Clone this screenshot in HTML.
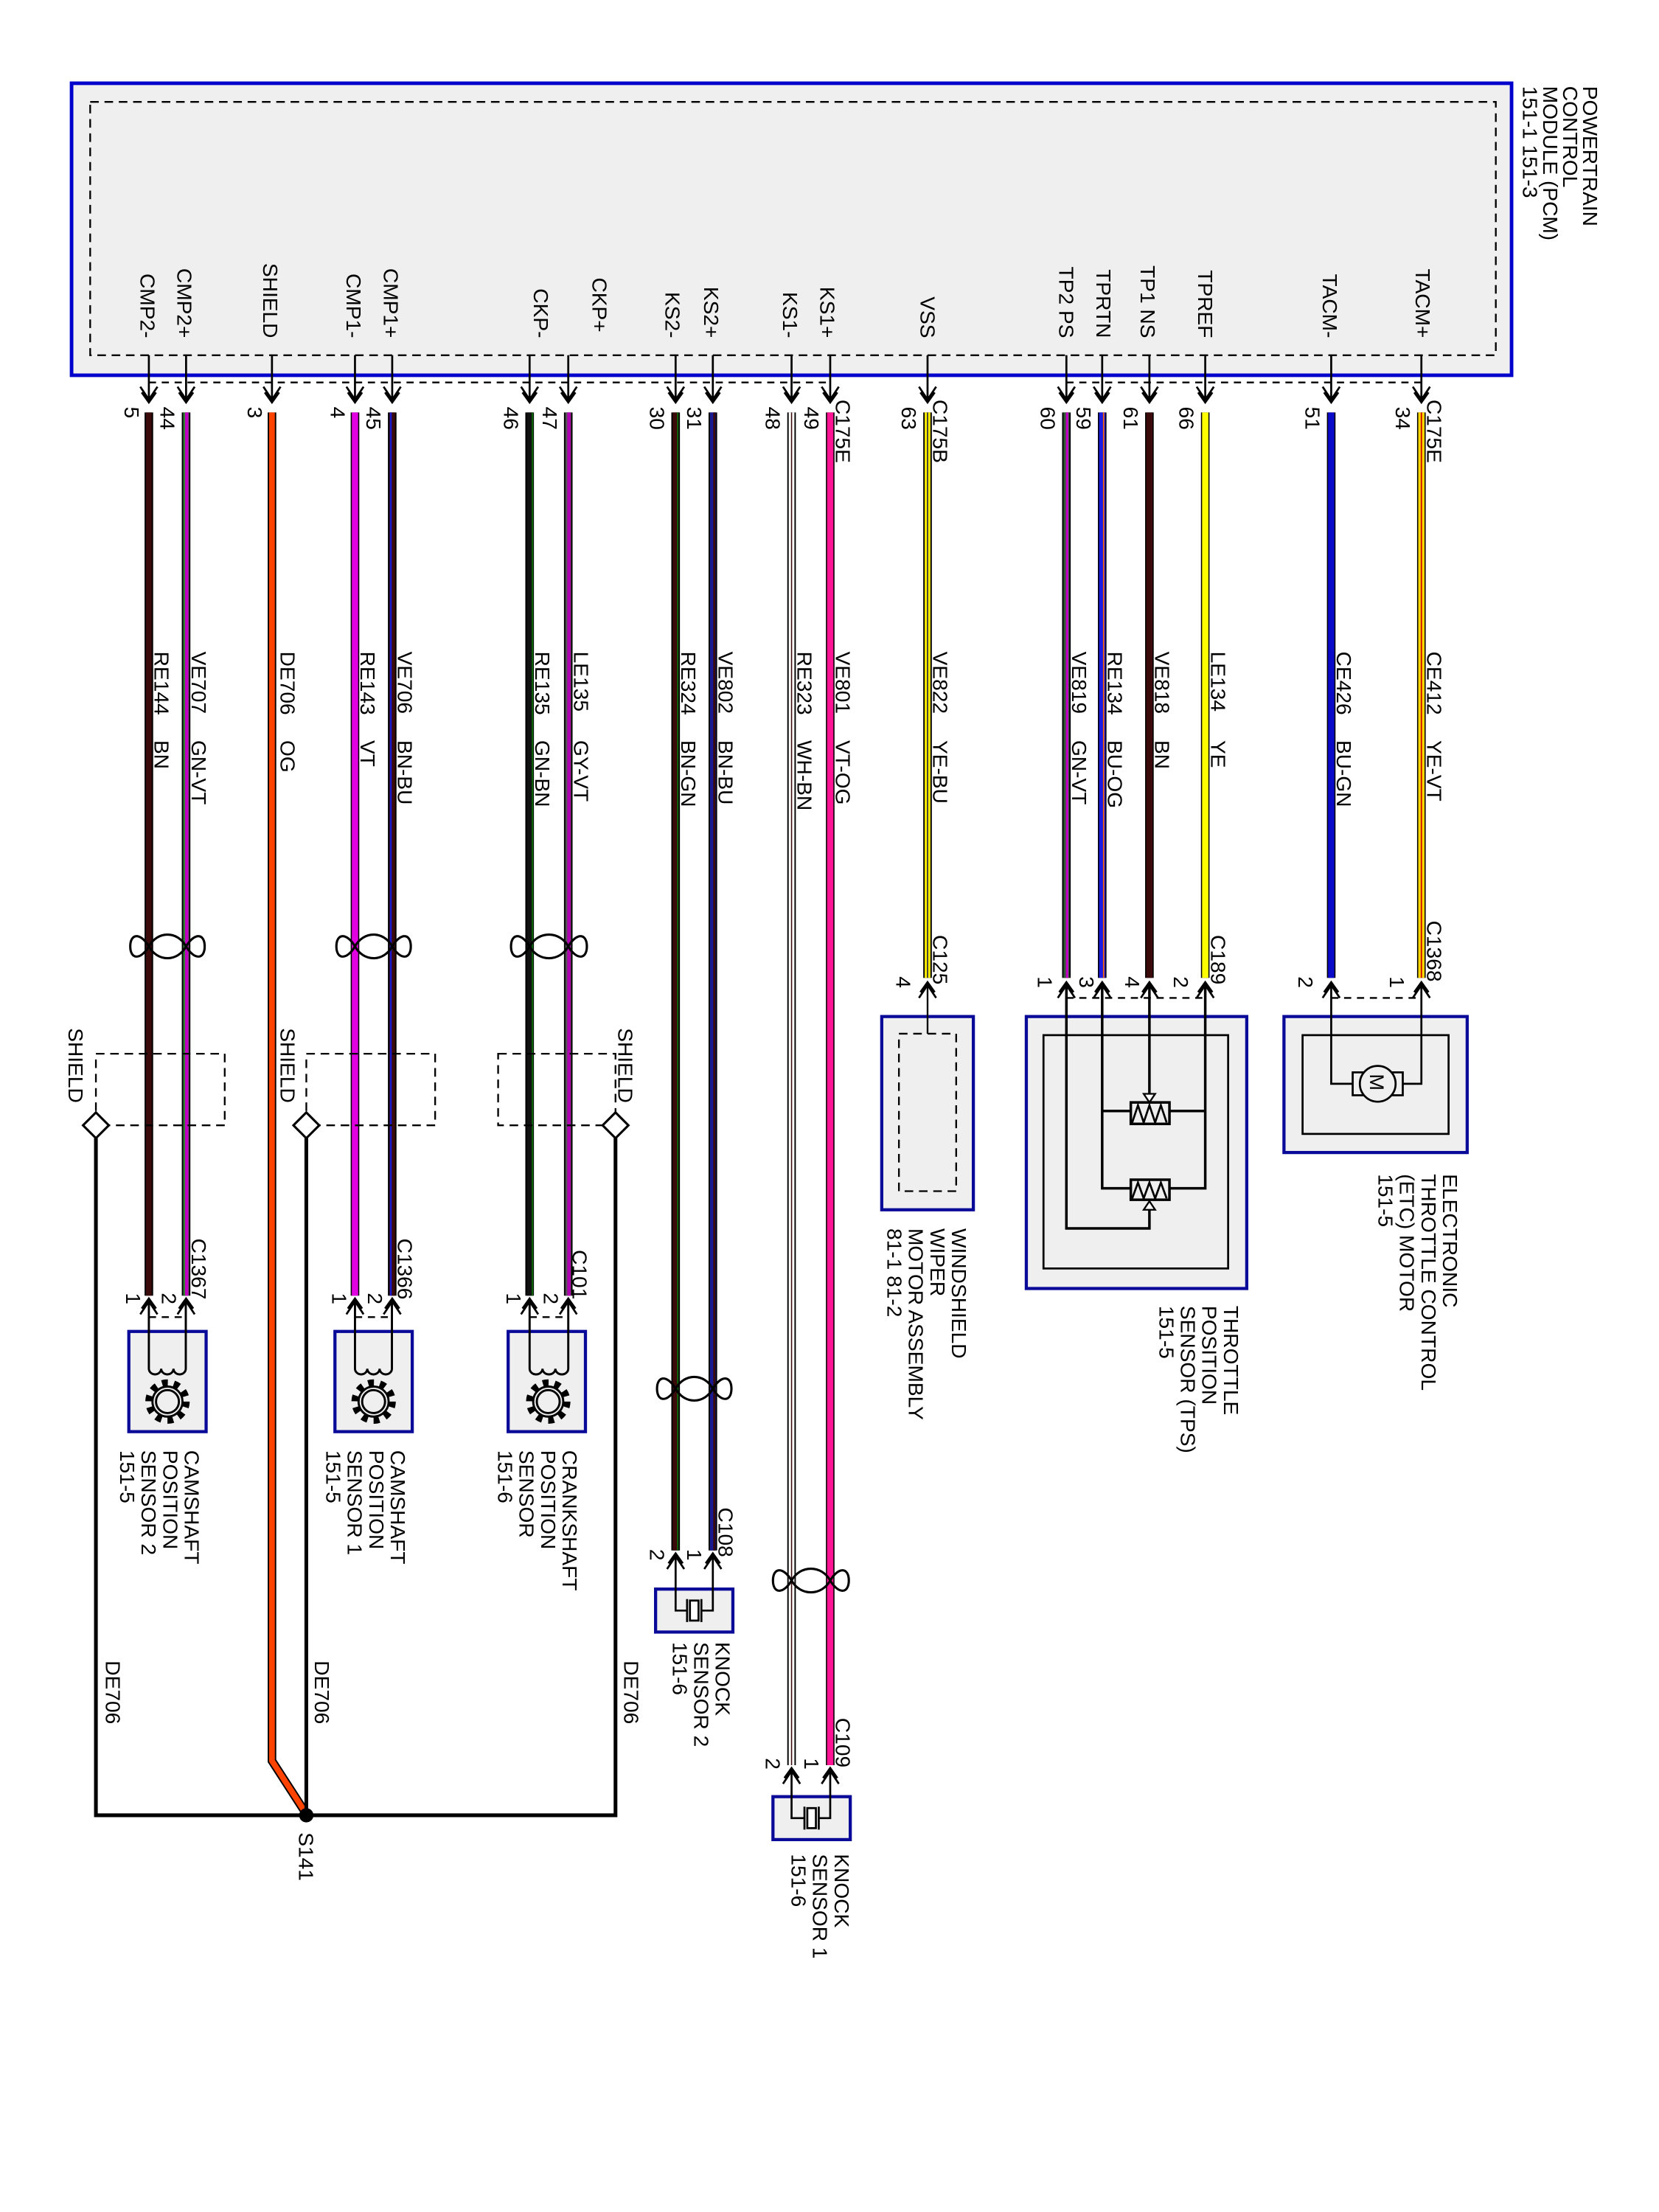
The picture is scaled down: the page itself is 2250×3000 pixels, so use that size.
<!DOCTYPE html>
<html><head><meta charset="utf-8"><style>
html,body{margin:0;padding:0;background:#fff;}
svg{display:block;}
text{font-family:"Liberation Sans",Arial,sans-serif;font-size:14.5px;fill:#000;}
</style></head><body>
<svg width="2250" height="3000" viewBox="0 0 1159 1545" xmlns="http://www.w3.org/2000/svg">
<rect x="0" y="0" width="1159" height="1545" fill="#fff"/>
<!-- PCM -->
<rect x="50" y="58" width="1006" height="204" fill="#efefef" stroke="#0000cc" stroke-width="2.5"/>
<rect x="63" y="71" width="982" height="177" fill="none" stroke="#000" stroke-width="1.2" stroke-dasharray="6 4"/>
<g transform="translate(1106,60) rotate(90)"><text>POWERTRAIN<tspan x="0" dy="14">CONTROL</tspan><tspan x="0" dy="14">MODULE (PCM)</tspan><tspan x="0" dy="14">151-1   151-3</tspan></text></g>

<line x1="104" y1="267" x2="580" y2="267" stroke="#000" stroke-width="1.2" stroke-dasharray="5 4"/>
<line x1="745" y1="267" x2="993" y2="267" stroke="#000" stroke-width="1.2" stroke-dasharray="5 4"/>

<g stroke="#000" stroke-width="1.4" fill="none">
<path d="M104 248V281M98 270L104 279L110 270M99 274L104 281L109 274"/>
<path d="M130 248V281M124 270L130 279L136 270M125 274L130 281L135 274"/>
<path d="M190 248V281M184 270L190 279L196 270M185 274L190 281L195 274"/>
<path d="M248 248V281M242 270L248 279L254 270M243 274L248 281L253 274"/>
<path d="M274 248V281M268 270L274 279L280 270M269 274L274 281L279 274"/>
<path d="M370 248V281M364 270L370 279L376 270M365 274L370 281L375 274"/>
<path d="M397 248V281M391 270L397 279L403 270M392 274L397 281L402 274"/>
<path d="M472 248V281M466 270L472 279L478 270M467 274L472 281L477 274"/>
<path d="M498 248V281M492 270L498 279L504 270M493 274L498 281L503 274"/>
<path d="M553 248V281M547 270L553 279L559 270M548 274L553 281L558 274"/>
<path d="M580 248V281M574 270L580 279L586 270M575 274L580 281L585 274"/>
<path d="M648 248V281M642 270L648 279L654 270M643 274L648 281L653 274"/>
<path d="M745 248V281M739 270L745 279L751 270M740 274L745 281L750 274"/>
<path d="M770 248V281M764 270L770 279L776 270M765 274L770 281L775 274"/>
<path d="M803 248V281M797 270L803 279L809 270M798 274L803 281L808 274"/>
<path d="M842 248V281M836 270L842 279L848 270M837 274L842 281L847 274"/>
<path d="M930 248V281M924 270L930 279L936 270M925 274L930 281L935 274"/>
<path d="M993 248V281M987 270L993 279L999 270M988 274L993 281L998 274"/>
</g>

<g text-anchor="end">
<text transform="translate(98,236) rotate(90)">CMP2-</text>
<text transform="translate(124,236) rotate(90)">CMP2+</text>
<text transform="translate(184,236) rotate(90)">SHIELD</text>
<text transform="translate(242,236) rotate(90)">CMP1-</text>
<text transform="translate(268,236) rotate(90)">CMP1+</text>
<text transform="translate(373,236) rotate(90)">CKP-</text>
<text transform="translate(414,232) rotate(90)">CKP+</text>
<text transform="translate(465,236) rotate(90)">KS2-</text>
<text transform="translate(492,236) rotate(90)">KS2+</text>
<text transform="translate(547,236) rotate(90)">KS1-</text>
<text transform="translate(573,236) rotate(90)">KS1+</text>
<text transform="translate(643,236) rotate(90)">VSS</text>
<text transform="translate(740,236) rotate(90)">TP2 PS</text>
<text transform="translate(766,236) rotate(90)">TPRTN</text>
<text transform="translate(797,236) rotate(90)">TP1 NS</text>
<text transform="translate(837,236) rotate(90)">TPREF</text>
<text transform="translate(924,236) rotate(90)">TACM-</text>
<text transform="translate(989,236) rotate(90)">TACM+</text>
</g>

<g>
<text transform="translate(87,284) rotate(90)">5</text>
<text transform="translate(112,284) rotate(90)">44</text>
<text transform="translate(173,284) rotate(90)">3</text>
<text transform="translate(231,284) rotate(90)">4</text>
<text transform="translate(256,284) rotate(90)">45</text>
<text transform="translate(352,284) rotate(90)">46</text>
<text transform="translate(379,284) rotate(90)">47</text>
<text transform="translate(454,284) rotate(90)">30</text>
<text transform="translate(480,284) rotate(90)">31</text>
<text transform="translate(535,284) rotate(90)">48</text>
<text transform="translate(562,284) rotate(90)">49</text>
<text transform="translate(584,279) rotate(90)">C175E</text>
<text transform="translate(630,284) rotate(90)">63</text>
<text transform="translate(652,279) rotate(90)">C175B</text>
<text transform="translate(727,284) rotate(90)">60</text>
<text transform="translate(752,284) rotate(90)">59</text>
<text transform="translate(785,284) rotate(90)">61</text>
<text transform="translate(824,284) rotate(90)">66</text>
<text transform="translate(912,284) rotate(90)">51</text>
<text transform="translate(975,284) rotate(90)">34</text>
<text transform="translate(997,279) rotate(90)">C175E</text>
</g>

<g fill="none">
<line x1="104" y1="288" x2="104" y2="905" stroke="#000" stroke-width="6"/><line x1="104" y1="288" x2="104" y2="905" stroke="#3b0a0a" stroke-width="4"/>
<line x1="130" y1="288" x2="130" y2="905" stroke="#000" stroke-width="6"/><line x1="130" y1="288" x2="130" y2="905" stroke="#2e7d32" stroke-width="4"/><line x1="130.5" y1="288" x2="130.5" y2="905" stroke="#c000c0" stroke-width="2.4"/>
<path d="M190 288V1230L212 1264" stroke="#000" stroke-width="6"/><path d="M190 288V1230L212 1264" stroke="#ff4400" stroke-width="4"/>
<line x1="248" y1="288" x2="248" y2="905" stroke="#000" stroke-width="6"/><line x1="248" y1="288" x2="248" y2="905" stroke="#e000e0" stroke-width="4.4"/>
<line x1="274" y1="288" x2="274" y2="905" stroke="#000" stroke-width="6"/><line x1="274" y1="288" x2="274" y2="905" stroke="#3b0a0a" stroke-width="4"/><line x1="273" y1="288" x2="273" y2="905" stroke="#1818c8" stroke-width="1.4"/>
<line x1="370" y1="288" x2="370" y2="905" stroke="#000" stroke-width="6"/><line x1="370" y1="288" x2="370" y2="905" stroke="#111" stroke-width="4"/><line x1="372" y1="288" x2="372" y2="905" stroke="#0a6a0a" stroke-width="1"/>
<line x1="397" y1="288" x2="397" y2="905" stroke="#000" stroke-width="6"/><line x1="397" y1="288" x2="397" y2="905" stroke="#555" stroke-width="4"/><line x1="397.5" y1="288" x2="397.5" y2="905" stroke="#b000b0" stroke-width="2.4"/>
<line x1="472" y1="288" x2="472" y2="1083" stroke="#000" stroke-width="6"/><line x1="472" y1="288" x2="472" y2="1083" stroke="#3b0a0a" stroke-width="4"/><line x1="473.5" y1="288" x2="473.5" y2="1083" stroke="#0a6a0a" stroke-width="1"/>
<line x1="498" y1="288" x2="498" y2="1083" stroke="#000" stroke-width="6"/><line x1="498" y1="288" x2="498" y2="1083" stroke="#1a1a90" stroke-width="4"/><line x1="499" y1="288" x2="499" y2="1083" stroke="#3b0a0a" stroke-width="1.4"/>
<line x1="553" y1="288" x2="553" y2="1233" stroke="#000" stroke-width="6"/><line x1="553" y1="288" x2="553" y2="1233" stroke="#fff" stroke-width="4"/><line x1="553" y1="288" x2="553" y2="1233" stroke="#3b0a0a" stroke-width="0.8"/>
<line x1="580" y1="288" x2="580" y2="1233" stroke="#000" stroke-width="6"/><line x1="580" y1="288" x2="580" y2="1233" stroke="#ff1493" stroke-width="4.4"/>
<line x1="648" y1="288" x2="648" y2="683" stroke="#000" stroke-width="6"/><line x1="648" y1="288" x2="648" y2="683" stroke="#ffee00" stroke-width="4"/><line x1="648" y1="288" x2="648" y2="683" stroke="#333" stroke-width="0.9"/>
<line x1="745" y1="288" x2="745" y2="683" stroke="#000" stroke-width="6"/><line x1="745" y1="288" x2="745" y2="683" stroke="#2e5d32" stroke-width="4"/><line x1="745.5" y1="288" x2="745.5" y2="683" stroke="#c000c0" stroke-width="1.8"/>
<line x1="770" y1="288" x2="770" y2="683" stroke="#000" stroke-width="6"/><line x1="770" y1="288" x2="770" y2="683" stroke="#1a1ae0" stroke-width="4.4"/><line x1="771" y1="288" x2="771" y2="683" stroke="#ff6600" stroke-width="0.9"/>
<line x1="803" y1="288" x2="803" y2="683" stroke="#000" stroke-width="6"/><line x1="803" y1="288" x2="803" y2="683" stroke="#3b0a0a" stroke-width="4.4"/>
<line x1="842" y1="288" x2="842" y2="683" stroke="#000" stroke-width="6"/><line x1="842" y1="288" x2="842" y2="683" stroke="#ffff00" stroke-width="4.4"/>
<line x1="930" y1="288" x2="930" y2="683" stroke="#000" stroke-width="6"/><line x1="930" y1="288" x2="930" y2="683" stroke="#0a0ac8" stroke-width="4.4"/>
<line x1="993" y1="288" x2="993" y2="683" stroke="#000" stroke-width="6"/><line x1="993" y1="288" x2="993" y2="683" stroke="#ffd700" stroke-width="4.4"/><line x1="993" y1="288" x2="993" y2="683" stroke="#cc0000" stroke-width="0.9"/>
</g>

<g>
<text transform="translate(108,455) rotate(90)">RE144</text><text transform="translate(108,517) rotate(90)">BN</text>
<text transform="translate(134,455) rotate(90)">VE707</text><text transform="translate(134,517) rotate(90)">GN-VT</text>
<text transform="translate(196,455) rotate(90)">DE706</text><text transform="translate(196,517) rotate(90)">OG</text>
<text transform="translate(252,455) rotate(90)">RE143</text><text transform="translate(252,517) rotate(90)">VT</text>
<text transform="translate(278,455) rotate(90)">VE706</text><text transform="translate(278,517) rotate(90)">BN-BU</text>
<text transform="translate(374,455) rotate(90)">RE135</text><text transform="translate(374,517) rotate(90)">GN-BN</text>
<text transform="translate(401,455) rotate(90)">LE135</text><text transform="translate(401,517) rotate(90)">GY-VT</text>
<text transform="translate(476,455) rotate(90)">RE324</text><text transform="translate(476,517) rotate(90)">BN-GN</text>
<text transform="translate(502,455) rotate(90)">VE802</text><text transform="translate(502,517) rotate(90)">BN-BU</text>
<text transform="translate(557,455) rotate(90)">RE323</text><text transform="translate(557,517) rotate(90)">WH-BN</text>
<text transform="translate(584,455) rotate(90)">VE801</text><text transform="translate(584,517) rotate(90)">VT-OG</text>
<text transform="translate(652,455) rotate(90)">VE822</text><text transform="translate(652,517) rotate(90)">YE-BU</text>
<text transform="translate(749,455) rotate(90)">VE819</text><text transform="translate(749,517) rotate(90)">GN-VT</text>
<text transform="translate(774,455) rotate(90)">RE134</text><text transform="translate(774,517) rotate(90)">BU-OG</text>
<text transform="translate(807,455) rotate(90)">VE818</text><text transform="translate(807,517) rotate(90)">BN</text>
<text transform="translate(846,455) rotate(90)">LE134</text><text transform="translate(846,517) rotate(90)">YE</text>
<text transform="translate(934,455) rotate(90)">CE426</text><text transform="translate(934,517) rotate(90)">BU-GN</text>
<text transform="translate(997,455) rotate(90)">CE412</text><text transform="translate(997,517) rotate(90)">YE-VT</text>
</g>

<g fill="none" stroke="#000" stroke-width="1.6">
<path d="M104 661 C98 651 91 652 91 661 C91 670 98 671 104 661 C110 650 124 650 130 661 C136 671 143 670 143 661 C143 652 136 651 130 661 C124 672 110 672 104 661Z"/>
<path d="M248 661 C242 651 235 652 235 661 C235 670 242 671 248 661 C254 650 268 650 274 661 C280 671 287 670 287 661 C287 652 280 651 274 661 C268 672 254 672 248 661Z"/>
<path d="M370 661 C364 651 357 652 357 661 C357 670 364 671 370 661 C376 650 391 650 397 661 C403 671 410 670 410 661 C410 652 403 651 397 661 C391 672 376 672 370 661Z"/>
<path d="M472 970 C466 960 459 961 459 970 C459 979 466 980 472 970 C478 959 492 959 498 970 C504 980 511 979 511 970 C511 961 504 960 498 970 C492 981 478 981 472 970Z"/>
<path d="M553 1104 C547 1094 540 1095 540 1104 C540 1113 547 1114 553 1104 C559 1093 574 1093 580 1104 C586 1114 593 1113 593 1104 C593 1095 586 1094 580 1104 C574 1115 559 1115 553 1104Z"/>
</g>

<g fill="none" stroke="#000" stroke-width="1.2" stroke-dasharray="6 4">
<rect x="67" y="736" width="90" height="50"/>
<rect x="214" y="736" width="90" height="50"/>
<rect x="348" y="736" width="82" height="50"/>
</g>
<g fill="#fff" stroke="#000" stroke-width="1.6">
<path d="M67 777L76 786L67 795L58 786Z"/>
<path d="M214 777L223 786L214 795L205 786Z"/>
<path d="M430 777L439 786L430 795L421 786Z"/>
</g>
<text transform="translate(48,718) rotate(90)">SHIELD</text>
<text transform="translate(196,718) rotate(90)">SHIELD</text>
<text transform="translate(432,718) rotate(90)">SHIELD</text>
<path d="M67 795V1268H430V795M214 795V1268" fill="none" stroke="#000" stroke-width="2.6"/>
<circle cx="214" cy="1268" r="5" fill="#000"/>
<text transform="translate(74,1160) rotate(90)">DE706</text>
<text transform="translate(220,1160) rotate(90)">DE706</text>
<text transform="translate(436,1160) rotate(90)">DE706</text>
<text transform="translate(209,1280) rotate(90)">S141</text>

<g stroke="#000" stroke-width="1.4" fill="none">
<path d="M98 918L104 909L110 918M99 914L104 907L109 914M124 918L130 909L136 918M125 914L130 907L135 914"/>
<path d="M242 918L248 909L254 918M243 914L248 907L253 914M268 918L274 909L280 918M269 914L274 907L279 914"/>
<path d="M364 918L370 909L376 918M365 914L370 907L375 914M391 918L397 909L403 918M392 914L397 907L402 914"/>
<path d="M466 1096L472 1087L478 1096M467 1092L472 1085L477 1092M492 1096L498 1087L504 1096M493 1092L498 1085L503 1092"/>
<path d="M547 1246L553 1237L559 1246M548 1242L553 1235L558 1242M574 1246L580 1237L586 1246M575 1242L580 1235L585 1242"/>
<path d="M642 697L648 688L654 697M643 693L648 686L653 693"/>
<path d="M739 697L745 688L751 697M740 693L745 686L750 693M764 697L770 688L776 697M765 693L770 686L775 693M797 697L803 688L809 697M798 693L803 686L808 693M836 697L842 688L848 697M837 693L842 686L847 693"/>
<path d="M924 697L930 688L936 697M925 693L930 686L935 693M987 697L993 688L999 697M988 693L993 686L998 693"/>
</g>
<g stroke="#000" stroke-width="1.2" stroke-dasharray="5 4">
<line x1="745" y1="697" x2="842" y2="697"/>
<line x1="930" y1="697" x2="993" y2="697"/>
<line x1="104" y1="920" x2="130" y2="920"/>
<line x1="248" y1="920" x2="274" y2="920"/>
<line x1="370" y1="920" x2="397" y2="920"/>
</g>

<g>
<text transform="translate(134,865) rotate(90)">C1367</text>
<text transform="translate(88,903) rotate(90)">1</text><text transform="translate(113,903) rotate(90)">2</text>
<text transform="translate(278,865) rotate(90)">C1366</text>
<text transform="translate(232,903) rotate(90)">1</text><text transform="translate(257,903) rotate(90)">2</text>
<text transform="translate(400,873) rotate(90)">C101</text>
<text transform="translate(354,903) rotate(90)">1</text><text transform="translate(380,903) rotate(90)">2</text>
<text transform="translate(502,1053) rotate(90)">C108</text>
<text transform="translate(454,1082) rotate(90)">2</text><text transform="translate(480,1082) rotate(90)">1</text>
<text transform="translate(584,1200) rotate(90)">C109</text>
<text transform="translate(535,1228) rotate(90)">2</text><text transform="translate(562,1228) rotate(90)">1</text>
<text transform="translate(652,653) rotate(90)">C125</text>
<text transform="translate(626,682) rotate(90)">4</text>
<text transform="translate(846,653) rotate(90)">C189</text>
<text transform="translate(725,682) rotate(90)">1</text><text transform="translate(754,682) rotate(90)">3</text>
<text transform="translate(786,682) rotate(90)">4</text><text transform="translate(820,682) rotate(90)">2</text>
<text transform="translate(997,643) rotate(90)">C1368</text>
<text transform="translate(907,682) rotate(90)">2</text><text transform="translate(971,682) rotate(90)">1</text>
</g>

<g>
<rect x="90" y="930" width="54" height="70" fill="#efefef" stroke="#0a0a99" stroke-width="2.2"/>
<rect x="234" y="930" width="54" height="70" fill="#efefef" stroke="#0a0a99" stroke-width="2.2"/>
<rect x="355" y="930" width="54" height="70" fill="#efefef" stroke="#0a0a99" stroke-width="2.2"/>
</g>
<g fill="none" stroke="#000" stroke-width="1.5">
<path d="M104 909V956a4.3 4 0 0 0 8.6 0a4.3 4 0 0 0 8.6 0a4.3 4 0 0 0 8.6 0V909"/>
<circle cx="117" cy="979" r="8"/><circle cx="117" cy="979" r="13" stroke-width="5" stroke-dasharray="4 4.2"/><circle cx="117" cy="979" r="10.5"/>
<path d="M248 909V956a4.3 4 0 0 0 8.6 0a4.3 4 0 0 0 8.6 0a4.3 4 0 0 0 8.6 0V909"/>
<circle cx="261" cy="979" r="8"/><circle cx="261" cy="979" r="13" stroke-width="5" stroke-dasharray="4 4.2"/><circle cx="261" cy="979" r="10.5"/>
<path d="M370 909V956a4.5 4 0 0 0 9 0a4.5 4 0 0 0 9 0a4.5 4 0 0 0 9 0V909"/>
<circle cx="383" cy="979" r="8"/><circle cx="383" cy="979" r="13" stroke-width="5" stroke-dasharray="4 4.2"/><circle cx="383" cy="979" r="10.5"/>
</g>
<text transform="translate(129,1013) rotate(90)">CAMSHAFT<tspan x="0" dy="15">POSITION</tspan><tspan x="0" dy="15">SENSOR 2</tspan><tspan x="0" dy="15">151-5</tspan></text>
<text transform="translate(273,1013) rotate(90)">CAMSHAFT<tspan x="0" dy="15">POSITION</tspan><tspan x="0" dy="15">SENSOR 1</tspan><tspan x="0" dy="15">151-5</tspan></text>
<text transform="translate(393,1013) rotate(90)">CRANKSHAFT<tspan x="0" dy="15">POSITION</tspan><tspan x="0" dy="15">SENSOR</tspan><tspan x="0" dy="15">151-6</tspan></text>

<rect x="458" y="1110" width="54" height="30" fill="#efefef" stroke="#0a0a99" stroke-width="2.2"/>
<g fill="none" stroke="#000" stroke-width="1.4">
<path d="M472 1087V1125H480M498 1087V1125H490"/>
<rect x="482" y="1118" width="6" height="14" fill="#fff"/><path d="M480 1117V1133M490 1117V1133"/>
</g>
<text transform="translate(500,1147) rotate(90)">KNOCK<tspan x="0" dy="15">SENSOR 2</tspan><tspan x="0" dy="15">151-6</tspan></text>
<rect x="540" y="1255" width="54" height="30" fill="#efefef" stroke="#0a0a99" stroke-width="2.2"/>
<g fill="none" stroke="#000" stroke-width="1.4">
<path d="M553 1237V1270H562M580 1237V1270H572"/>
<rect x="564" y="1263" width="6" height="14" fill="#fff"/><path d="M562 1262V1278M572 1262V1278"/>
</g>
<text transform="translate(583,1295) rotate(90)">KNOCK<tspan x="0" dy="15">SENSOR 1</tspan><tspan x="0" dy="15">151-6</tspan></text>

<rect x="616" y="710" width="64" height="135" fill="#efefef" stroke="#0a0a99" stroke-width="2.2"/>
<rect x="628" y="722" width="40" height="110" fill="none" stroke="#000" stroke-width="1.2" stroke-dasharray="6 4"/>
<line x1="648" y1="688" x2="648" y2="722" stroke="#000" stroke-width="1.2"/>
<text transform="translate(665,858) rotate(90)">WINDSHIELD<tspan x="0" dy="15">WIPER</tspan><tspan x="0" dy="15">MOTOR ASSEMBLY</tspan><tspan x="0" dy="15">81-1   81-2</tspan></text>

<rect x="717" y="710" width="154" height="190" fill="#efefef" stroke="#0a0a99" stroke-width="2.2"/>
<rect x="729" y="723" width="129" height="163" fill="none" stroke="#000" stroke-width="1.4"/>
<g fill="none" stroke="#000" stroke-width="1.8">
<path d="M745 688V858H803V842"/>
<path d="M770 688V830H790M770 776H790"/>
<path d="M842 688V830H817M842 776H817"/>
<path d="M803 688V768"/>
<rect x="790" y="770" width="27" height="15" fill="#efefef"/>
<rect x="790" y="824" width="27" height="14" fill="#efefef"/>
<path d="M791 784L795 772L799 784L803 772L807 784L811 772L815 784" stroke-width="1.4"/>
<path d="M791 837L795 826L799 837L803 826L807 837L811 826L815 837" stroke-width="1.4"/>
</g>
<path d="M799 764H807L803 770Z" fill="#fff" stroke="#000" stroke-width="1.2"/>
<path d="M799 845H807L803 839Z" fill="#fff" stroke="#000" stroke-width="1.2"/>
<text transform="translate(855,912) rotate(90)">THROTTLE<tspan x="0" dy="15">POSITION</tspan><tspan x="0" dy="15">SENSOR (TPS)</tspan><tspan x="0" dy="15">151-5</tspan></text>

<rect x="897" y="710" width="128" height="95" fill="#efefef" stroke="#0a0a99" stroke-width="2.2"/>
<rect x="910" y="723" width="102" height="69" fill="none" stroke="#000" stroke-width="1.4"/>
<g fill="none" stroke="#000" stroke-width="1.4">
<path d="M930 688V757H945M993 688V757H980"/>
<rect x="945" y="749" width="35" height="16" fill="#efefef"/>
<circle cx="962.5" cy="757" r="12.5" fill="#efefef"/>
</g>
<text transform="translate(957,750) rotate(90)" style="font-size:14px">M</text>
<text transform="translate(1008,820) rotate(90)">ELECTRONIC<tspan x="0" dy="15">THROTTLE CONTROL</tspan><tspan x="0" dy="15">(ETC) MOTOR</tspan><tspan x="0" dy="15">151-5</tspan></text>
</svg>
</body></html>
